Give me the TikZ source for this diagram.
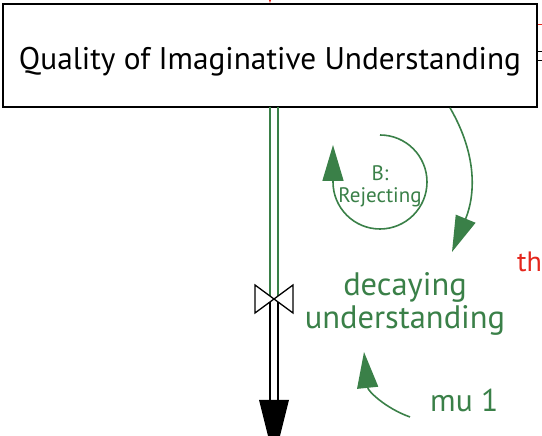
\documentclass[tikz,border=0pt]{standalone}
\usepackage{fontspec}
\setmainfont{PT Sans}
\usetikzlibrary{arrows.meta}

\definecolor{sdgreen}{RGB}{58,128,72}
\definecolor{sdred}{RGB}{228,38,28}

\tikzset{
  >={Triangle[length=36pt,width=21pt]},   % long filled arrow heads
  stock/.style={draw, line width=1.6pt, fill=white, inner sep=0pt,
    minimum width=534pt, minimum height=103pt},
  link/.style={sdgreen, line width=1.6pt},
  pipe/.style={line width=1.6pt},
  label/.style={sdgreen, inner sep=0pt, align=center},
}

\begin{document}
\begin{tikzpicture}[x=1pt, y=1pt]
\useasboundingbox (0,0) rectangle (542,436);
\clip (0,0) rectangle (542,436);

%==================== stock ====================
\node[stock, font=\fontsize{31.3}{36}\selectfont] (quality) at (270,380.5)
  {\raisebox{-14.5pt}[0pt][0pt]{Quality of Imaginative Understanding}};

% links reaching the stock from outside
\draw[sdred, line width=1.2pt, -{Triangle[length=8pt,width=5pt]}]
  (270,460) -- (quality.north);
\draw[sdred, line width=1pt] (quality.east |- 0,411) -- ++(6,0);
\draw[line width=1pt] (quality.east |- 0,384) -- ++(6,0);
\draw[line width=1pt] (quality.east |- 0,375) -- ++(6,0);

%==================== outflow ====================
\coordinate (valve) at (274,137);
\coordinate (sink) at (274,36);

% pipe
\draw[pipe, sdgreen] (270,329) -- (270,137);
\draw[pipe, sdgreen] (278,329) -- (278,137);
\draw[pipe] (270,137) -- (270,36);
\draw[pipe] (278,137) -- (278,36);
\fill (sink) ++(-15,0) -- ++(30,0) -- (274,-24) -- cycle;

% valve
\draw[line width=1.3pt, fill=white]
  ([shift={(-19,14)}]valve) -- ([shift={(19,-14)}]valve)
  -- ([shift={(19,14)}]valve) -- ([shift={(-19,-14)}]valve) -- cycle;

\node[label, font=\fontsize{32.5}{33}\selectfont] (decay) at (405,132)
  {decaying\\understanding};

%==================== rate and loop ====================
\node[label, anchor=base west, font=\fontsize{31.5}{36}\selectfont] (mu) at (430,24)
  {mu 1};

\coordinate (decay-in) at (452,184);
\coordinate (mu-out) at (410,19);
\coordinate (decay-under) at (364,84);

\draw[link, ->] ([xshift=180pt]quality.south)
  .. controls (478,280) and (475,240) .. (decay-in);
\draw[link, ->] (mu-out)
  .. controls (385,28) and (368,45) .. (decay-under);

% balancing loop
\node[label, font=\fontsize{21}{22}\selectfont] (loop) at (380,250)
  {B:\\Rejecting};
\draw[link, ->] (380,301) arc[start angle=90, end angle=-180, radius=47]
  -- ++(0,37);

% label at the right edge
\node[sdred, anchor=base west, inner sep=0pt, font=\fontsize{28}{33}\selectfont]
  (th) at (517,164) {th};

\end{tikzpicture}
\end{document}
